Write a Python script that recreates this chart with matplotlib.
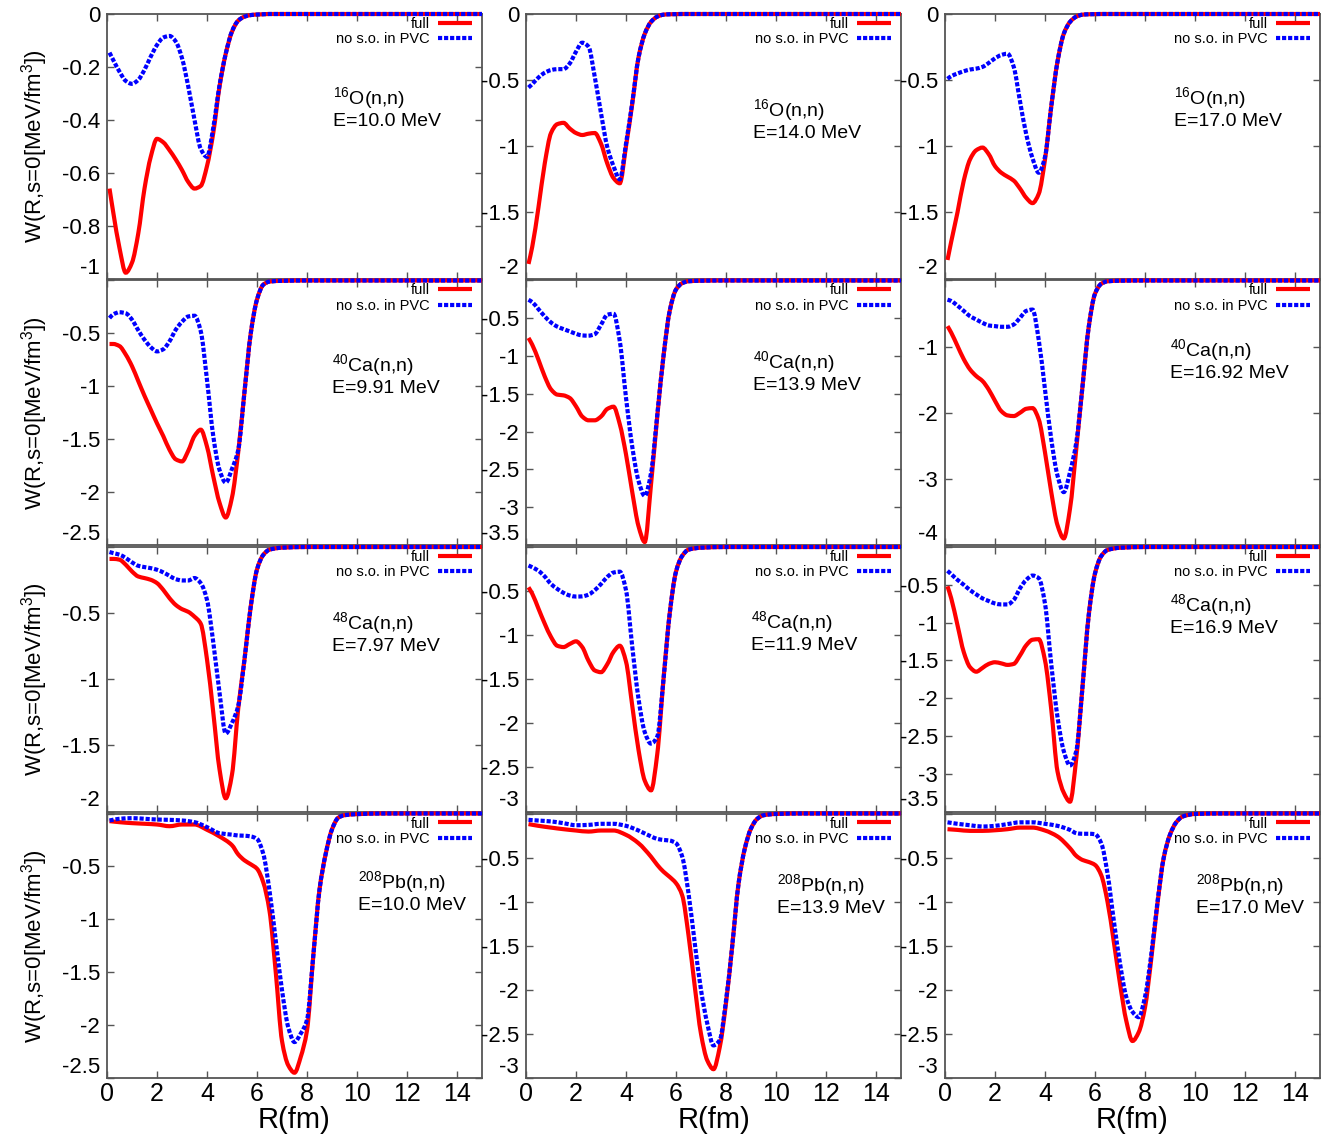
import numpy as np
import matplotlib
matplotlib.use("Agg")
import matplotlib.pyplot as plt
from matplotlib.ticker import FixedLocator, FuncFormatter
from matplotlib.path import Path
from matplotlib.patches import PathPatch
from matplotlib.lines import Line2D

plt.rcParams['font.family'] = ['Liberation Sans', 'DejaVu Sans']
plt.rcParams['mathtext.fontset'] = 'custom'
plt.rcParams['mathtext.rm'] = 'Liberation Sans'
plt.rcParams['mathtext.it'] = 'Liberation Sans:italic'
plt.rcParams['axes.unicode_minus'] = False

# radial grids (fm)
R_LIGHT = [0.1, 0.25, 0.5, 0.75, 1.0, 1.25, 1.5, 1.75, 2.0, 2.25, 2.5, 2.75, 3.0, 3.25,
           3.5, 3.75, 4.0, 4.25, 4.5, 4.75, 5.0, 5.25, 5.5, 5.75, 6.0, 6.25, 6.5, 7.0, 8.0, 15.0]
R_HEAVY = [0.1, 0.5, 1.0, 1.5, 2.0, 2.5, 3.0, 3.5, 4.0, 4.5, 5.0, 5.25, 5.5, 5.75, 6.0, 6.25,
           6.5, 6.75, 7.0, 7.25, 7.5, 7.75, 8.0, 8.25, 8.5, 8.75, 9.0, 9.25, 9.5, 10.0, 11.0, 15.0]

# W(R, s=0) in MeV/fm^3, "full" and "no s.o. in PVC"
o16_e10_full = [-0.66, -0.75, -0.885, -0.978, -0.94, -0.83, -0.66, -0.54, -0.472, -0.485, -0.515, -0.55, -0.59, -0.635,
                -0.66, -0.65, -0.575, -0.45, -0.275, -0.15, -0.067, -0.025, -0.01, -0.004, -0.002, -0.001, 0, 0, 0, 0]
o16_e10_noso = [-0.146, -0.174, -0.218, -0.253, -0.264, -0.249, -0.211, -0.161, -0.117, -0.089, -0.083, -0.104, -0.167, -0.274,
                -0.40, -0.51, -0.54, -0.43, -0.27, -0.15, -0.065, -0.025, -0.01, -0.004, -0.002, -0.001, 0, 0, 0, 0]
o16_e14_full = [-1.89, -1.76, -1.46, -1.13, -0.90, -0.833, -0.823, -0.866, -0.9, -0.915, -0.905, -0.9, -0.98, -1.13,
                -1.24, -1.28, -1.0, -0.68, -0.33, -0.15, -0.06, -0.02, -0.005, -0.002, -0.001, 0, 0, 0, 0, 0]
o16_e14_noso = [-0.556, -0.53, -0.48, -0.444, -0.424, -0.417, -0.417, -0.374, -0.285, -0.217, -0.247, -0.475, -0.75, -1.005,
                -1.15, -1.25, -0.98, -0.67, -0.33, -0.15, -0.06, -0.02, -0.005, -0.002, -0.001, 0, 0, 0, 0, 0]
o16_e17_full = [-1.86, -1.72, -1.50, -1.26, -1.10, -1.03, -1.01, -1.06, -1.15, -1.20, -1.23, -1.26, -1.32, -1.39,
                -1.43, -1.36, -1.1, -0.7, -0.36, -0.15, -0.06, -0.02, -0.005, -0.002, -0.001, 0, 0, 0, 0, 0]
o16_e17_noso = [-0.49, -0.47, -0.45, -0.433, -0.42, -0.413, -0.40, -0.37, -0.335, -0.31, -0.30, -0.40, -0.66, -0.91,
                -1.09, -1.20, -1.08, -0.7, -0.36, -0.15, -0.06, -0.02, -0.005, -0.002, -0.001, 0, 0, 0, 0, 0]

ca40_e991_full = [-0.60, -0.60, -0.62, -0.70, -0.81, -0.95, -1.09, -1.22, -1.35, -1.47, -1.60, -1.69, -1.71, -1.61,
                  -1.47, -1.41, -1.57, -1.85, -2.10, -2.24, -2.05, -1.62, -1.05, -0.50, -0.18, -0.04, -0.01, -0.003, 0, 0]
ca40_e991_noso = [-0.355, -0.32, -0.30, -0.31, -0.37, -0.47, -0.56, -0.63, -0.67, -0.65, -0.575, -0.465, -0.39, -0.34,
                  -0.333, -0.48, -0.94, -1.47, -1.79, -1.91, -1.78, -1.60, -1.05, -0.50, -0.18, -0.04, -0.01, -0.003, 0, 0]
ca40_e139_full = [-0.76, -0.85, -1.05, -1.27, -1.44, -1.51, -1.52, -1.555, -1.665, -1.80, -1.85, -1.85, -1.80, -1.70,
                  -1.67, -1.9, -2.3, -2.8, -3.25, -3.46, -2.7, -1.8, -1.00, -0.4, -0.12, -0.035, -0.01, -0.003, 0, 0]
ca40_e139_noso = [-0.255, -0.286, -0.38, -0.475, -0.555, -0.61, -0.643, -0.674, -0.705, -0.727, -0.73, -0.71, -0.586, -0.454,
                  -0.44, -0.8, -1.55, -2.2, -2.65, -2.85, -2.55, -1.78, -1.00, -0.4, -0.12, -0.035, -0.01, -0.003, 0, 0]
ca40_e1692_full = [-0.69, -0.79, -0.99, -1.19, -1.345, -1.445, -1.52, -1.65, -1.82, -1.975, -2.04, -2.05, -2.00, -1.94,
                   -1.93, -2.1, -2.6, -3.2, -3.7, -3.90, -3.45, -2.55, -1.6, -0.7, -0.2, -0.05, -0.012, -0.003, 0, 0]
ca40_e1692_noso = [-0.29, -0.31, -0.38, -0.46, -0.54, -0.59, -0.64, -0.68, -0.69, -0.70, -0.70, -0.665, -0.565, -0.46,
                   -0.44, -0.9, -1.65, -2.4, -2.95, -3.2, -2.9, -2.45, -1.6, -0.7, -0.2, -0.05, -0.012, -0.003, 0, 0]

ca48_e797_full = [-0.09, -0.09, -0.096, -0.134, -0.185, -0.223, -0.235, -0.248, -0.273, -0.324, -0.387, -0.438, -0.47, -0.49,
                  -0.527, -0.58, -0.85, -1.25, -1.68, -1.9, -1.72, -1.22, -0.85, -0.45, -0.17, -0.06, -0.02, -0.005, 0, 0]
ca48_e797_noso = [-0.038, -0.046, -0.058, -0.083, -0.116, -0.142, -0.152, -0.16, -0.172, -0.192, -0.218, -0.243, -0.253, -0.253,
                  -0.235, -0.273, -0.40, -0.72, -1.10, -1.41, -1.33, -1.2, -0.85, -0.45, -0.17, -0.06, -0.02, -0.005, 0, 0]
ca48_e119_full = [-0.457, -0.53, -0.70, -0.87, -1.02, -1.12, -1.135, -1.10, -1.07, -1.135, -1.29, -1.40, -1.42, -1.33,
                  -1.19, -1.12, -1.3, -1.8, -2.3, -2.65, -2.76, -2.35, -1.5, -0.75, -0.28, -0.1, -0.03, -0.008, 0, 0]
ca48_e119_noso = [-0.21, -0.23, -0.27, -0.335, -0.42, -0.475, -0.52, -0.55, -0.562, -0.56, -0.54, -0.49, -0.42, -0.34,
                  -0.29, -0.28, -0.49, -1.13, -1.72, -2.1, -2.23, -2.15, -1.5, -0.75, -0.28, -0.1, -0.03, -0.008, 0, 0]
ca48_e169_full = [-0.52, -0.68, -1.035, -1.39, -1.59, -1.65, -1.60, -1.547, -1.525, -1.54, -1.56, -1.547, -1.435, -1.30,
                  -1.227, -1.22, -1.5, -2.15, -2.97, -3.25, -3.37, -2.8, -1.85, -0.9, -0.35, -0.12, -0.04, -0.01, 0, 0]
ca48_e169_noso = [-0.315, -0.36, -0.435, -0.50, -0.57, -0.627, -0.68, -0.715, -0.747, -0.76, -0.76, -0.70, -0.547, -0.435,
                  -0.378, -0.413, -0.75, -1.55, -2.25, -2.7, -2.89, -2.7, -1.85, -0.9, -0.35, -0.12, -0.04, -0.01, 0, 0]

pb_e10_full = [-0.072, -0.082, -0.091, -0.097, -0.104, -0.12, -0.104, -0.104, -0.154, -0.217, -0.30, -0.387, -0.443, -0.48,
               -0.522, -0.65, -0.92, -1.5, -2.15, -2.38, -2.45, -2.3, -2.05, -1.35, -0.72, -0.38, -0.15, -0.04, -0.016,
               -0.006, 0, 0]
pb_e10_noso = [-0.066, -0.05, -0.044, -0.05, -0.057, -0.06, -0.066, -0.082, -0.129, -0.186, -0.20, -0.208, -0.21, -0.217,
               -0.24, -0.38, -0.73, -1.20, -1.67, -2.02, -2.16, -2.08, -1.95, -1.35, -0.72, -0.38, -0.15, -0.04, -0.016,
               -0.006, 0, 0]
pb_e139_full = [-0.12, -0.14, -0.16, -0.178, -0.193, -0.205, -0.193, -0.193, -0.242, -0.337, -0.49, -0.583, -0.66, -0.72,
                -0.79, -0.93, -1.38, -1.96, -2.5, -2.8, -2.9, -2.65, -2.15, -1.5, -0.8, -0.4, -0.17, -0.06, -0.02,
                -0.005, 0, 0]
pb_e139_noso = [-0.072, -0.08, -0.09, -0.11, -0.133, -0.129, -0.117, -0.117, -0.14, -0.193, -0.26, -0.288, -0.30, -0.307,
                -0.337, -0.49, -0.905, -1.47, -2.0, -2.38, -2.63, -2.57, -2.12, -1.5, -0.8, -0.4, -0.17, -0.06, -0.02,
                -0.005, 0, 0]
pb_e17_full = [-0.178, -0.186, -0.197, -0.197, -0.19, -0.178, -0.16, -0.16, -0.193, -0.26, -0.394, -0.48, -0.527, -0.55,
               -0.583, -0.70, -1.0, -1.45, -1.93, -2.35, -2.58, -2.48, -2.2, -1.65, -1.02, -0.5, -0.24, -0.1, -0.035,
               -0.005, 0, 0]
pb_e17_noso = [-0.10, -0.117, -0.133, -0.148, -0.14, -0.12, -0.10, -0.10, -0.117, -0.14, -0.186, -0.223, -0.23, -0.23,
               -0.235, -0.337, -0.68, -1.21, -1.70, -2.08, -2.25, -2.31, -2.08, -1.6, -1.0, -0.5, -0.24, -0.1, -0.035,
               -0.005, 0, 0]

MASS = [16, 40, 48, 208]
SYMBOL = ["O", "Ca", "Ca", "Pb"]
ENERGY = [["10.0", "14.0", "17.0"],
          ["9.91", "13.9", "16.92"],
          ["7.97", "11.9", "16.9"],
          ["10.0", "13.9", "17.0"]]

curves = [
    [(o16_e10_full, o16_e10_noso), (o16_e14_full, o16_e14_noso), (o16_e17_full, o16_e17_noso)],
    [(ca40_e991_full, ca40_e991_noso), (ca40_e139_full, ca40_e139_noso), (ca40_e1692_full, ca40_e1692_noso)],
    [(ca48_e797_full, ca48_e797_noso), (ca48_e119_full, ca48_e119_noso), (ca48_e169_full, ca48_e169_noso)],
    [(pb_e10_full, pb_e10_noso), (pb_e139_full, pb_e139_noso), (pb_e17_full, pb_e17_noso)],
]
grids = [R_LIGHT, R_LIGHT, R_LIGHT, R_HEAVY]

# axis ranges / steps per panel
ybot = [[-1, -2, -2], [-2.5, -3.5, -4], [-2, -3, -3.5], [-2.5, -3, -3]]
ystep = [[0.2, 0.5, 0.5], [0.5, 0.5, 1.0], [0.5, 0.5, 0.5], [0.5, 0.5, 0.5]]
# where the nucleus/energy text sits (axes fraction)
txt_pos = [[(0.603, 0.645), (0.605, 0.60), (0.61, 0.645)],
           [(0.60, 0.645), (0.605, 0.655), (0.60, 0.70)],
           [(0.60, 0.675), (0.60, 0.68), (0.60, 0.745)],
           [(0.67, 0.705), (0.67, 0.695), (0.67, 0.695)]]


def smooth_path(x, y):
    # cubic Bezier through the samples, monotone (Fritsch-Carlson) tangents so no overshoot
    x = np.asarray(x, float)
    y = np.asarray(y, float)
    h = np.diff(x)
    d = np.diff(y) / h
    m = np.zeros_like(x)
    m[0], m[-1] = d[0], d[-1]
    for i in range(1, len(x) - 1):
        if d[i - 1] * d[i] > 0:
            w1 = 2 * h[i] + h[i - 1]
            w2 = h[i] + 2 * h[i - 1]
            m[i] = (w1 + w2) / (w1 / d[i - 1] + w2 / d[i])
    verts = [(x[0], y[0])]
    codes = [Path.MOVETO]
    for i in range(len(x) - 1):
        verts += [(x[i] + h[i] / 3, y[i] + m[i] * h[i] / 3),
                  (x[i + 1] - h[i] / 3, y[i + 1] - m[i + 1] * h[i] / 3),
                  (x[i + 1], y[i + 1])]
        codes += [Path.CURVE4] * 3
    return Path(verts, codes)


RED = '#ff0000'
BLUE = '#0000ff'
DOTS = (0, (1.0, 0.45))
LW = 3.0

W, H = 1334, 1139
fig = plt.figure(figsize=(W / 100, H / 100), dpi=100)

col_left = [107, 526, 945]
col_w = 375
row_top = [14, 280.5, 547, 813.5]
row_h = 264.5
frame = '#555555'

for r in range(4):
    for c in range(3):
        ax = fig.add_axes([col_left[c] / W, 1 - (row_top[r] + row_h) / H, col_w / W, row_h / H])
        full, noso = curves[r][c]
        R = grids[r]
        ax.add_patch(PathPatch(smooth_path(R, full), fill=False, edgecolor=RED, lw=LW,
                               capstyle='butt', clip_on=False, zorder=3))
        ax.add_patch(PathPatch(smooth_path(R, noso), fill=False, edgecolor=BLUE, lw=LW,
                               linestyle=DOTS, capstyle='butt', clip_on=False, zorder=4))

        ax.set_xlim(0, 15)
        ax.set_ylim(ybot[r][c], 0)
        yt = np.round(np.arange(0, ybot[r][c] - 1e-9, -ystep[r][c]), 3)
        ax.yaxis.set_major_locator(FixedLocator(yt))
        ax.xaxis.set_major_locator(FixedLocator(np.arange(0, 15, 2)))

        top_row = (r == 0)
        ax.yaxis.set_major_formatter(FuncFormatter(
            lambda v, p, t=top_row: ('0' if t else '') if abs(v) < 1e-9 else '%g' % v))

        for s in ax.spines.values():
            s.set_color(frame)
            s.set_linewidth(1.3)
        ax.tick_params(direction='in', length=5, width=1, color=frame,
                       top=True, right=True)
        ax.tick_params(axis='y', labelsize=16, pad=5)
        ax.tick_params(axis='x', labelsize=18, pad=3)
        # lowest y label sits just above the panel edge
        ax.yaxis.get_major_ticks()[-1].label1.set_verticalalignment('bottom')
        if r < 3:
            ax.tick_params(axis='x', labelbottom=False)
        else:
            ax.set_xlabel('R(fm)', fontsize=21, labelpad=0)

        handles = [Line2D([], [], color=RED, lw=LW, solid_capstyle='butt'),
                   Line2D([], [], color=BLUE, lw=LW, ls=DOTS, dash_capstyle='butt')]
        ax.legend(handles, ['full', 'no s.o. in PVC'], loc='upper right',
                  bbox_to_anchor=(1 - 10 / col_w, 1 - 3 / row_h),
                  frameon=False, fontsize=10.5, markerfirst=False, handlelength=2.3,
                  handletextpad=0.6, labelspacing=0.1, borderpad=0, borderaxespad=0)

        tx, ty = txt_pos[r][c]
        ax.text(tx, ty, r'$\mathregular{^{%d}}$%s(n,n)' % (MASS[r], SYMBOL[r]) + '\nE=%s MeV' % ENERGY[r][c],
                transform=ax.transAxes, ha='left', va='center', fontsize=14, linespacing=1.15)

        if c == 0:
            fig.text(35 / W, 1 - (row_top[r] + row_h / 2) / H,
                     r'W(R,s=0[MeV/fm$^{\mathregular{3}}$])',
                     rotation=90, ha='center', va='center', fontsize=16)

fig.savefig('out.png', dpi=100, facecolor='white')
